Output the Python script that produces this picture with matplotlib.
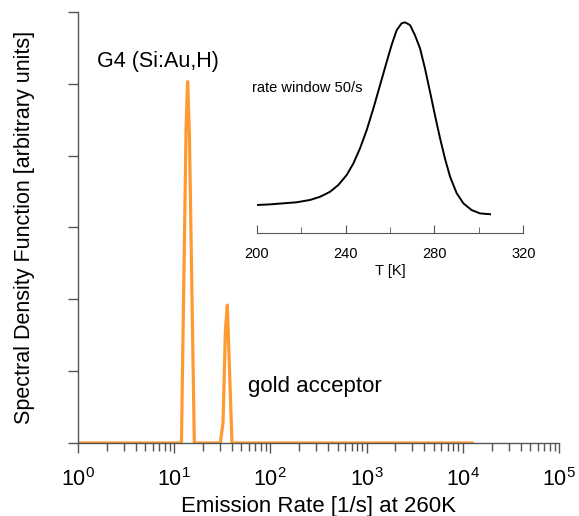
import numpy as np
import matplotlib
matplotlib.use("Agg")
import matplotlib.pyplot as plt
from matplotlib.ticker import LogLocator, FixedLocator, NullFormatter

plt.rcParams['font.family'] = ['Liberation Sans', 'DejaVu Sans']
plt.rcParams['mathtext.fontset'] = 'custom'
plt.rcParams['mathtext.rm'] = 'Liberation Sans'
plt.rcParams['mathtext.default'] = 'regular'

# spectral density vs emission rate (main plot)
rate = [1, 11.9, 13.3, 13.8, 14.4, 16.2, 30.2, 32.2, 34.1, 35.7, 39.9, 12500]
sdf = [0, 0, 4.4, 5.03, 4.3, 0, 0, 0.28, 1.57, 1.92, 0, 0]

# DLTS spectrum at rate window 50/s (inset)
temp = [200, 206, 212, 218, 224, 228.5, 233, 236.7, 240.5, 243.5, 246.5, 249.5,
        252.5, 255.5, 258.5, 260.7, 263, 265.2, 266.7, 269, 271.2, 273.5, 275.7,
        278, 280.2, 282.5, 284.7, 287, 290, 293, 296.7, 300.5, 305]
dlts = [0.132, 0.135, 0.140, 0.145, 0.156, 0.171, 0.195, 0.227, 0.275, 0.330, 0.402, 0.489,
        0.592, 0.703, 0.814, 0.894, 0.965, 0.997, 1.002, 0.989, 0.941, 0.878, 0.783,
        0.671, 0.560, 0.450, 0.354, 0.267, 0.188, 0.140, 0.108, 0.092, 0.088]

orange = '#ff9a33'
axcol = '#555555'

fig = plt.figure(figsize=(5.79, 5.16), dpi=100)
ax = fig.add_axes([0.1347, 0.1415, 0.8306, 0.8353])
ax.plot(rate, sdf, color=orange, lw=2.3)
ax.set_xscale('log')
ax.set_xlim(1, 1e5)
ax.set_ylim(0, 6)
ax.yaxis.set_major_locator(FixedLocator(range(7)))
ax.yaxis.set_major_formatter(NullFormatter())
ax.xaxis.set_major_locator(LogLocator(base=10, numticks=10))
ax.xaxis.set_minor_locator(LogLocator(base=10, subs=np.arange(2, 10), numticks=20))
ax.xaxis.set_minor_formatter(NullFormatter())
for s in ['top', 'right']:
    ax.spines[s].set_visible(False)
for s in ['left', 'bottom']:
    ax.spines[s].set_color(axcol)
    ax.spines[s].set_linewidth(1.0)
ax.tick_params(axis='both', which='major', direction='out', length=7, width=1,
               color=axcol, labelsize=15.5, pad=6)
ax.tick_params(axis='x', which='major', pad=11)
ax.tick_params(axis='x', which='minor', direction='out', length=6, width=1, color=axcol)
ax.set_xlabel('Emission Rate [1/s] at 260K', fontsize=16, labelpad=4)
ax.set_ylabel('Spectral Density Function [arbitrary units]', fontsize=15.5, labelpad=18)
ax.text(0.04, 0.884, 'G4 (Si:Au,H)', transform=ax.transAxes, fontsize=15.5, va='center')
ax.text(0.353, 0.13, 'gold acceptor', transform=ax.transAxes, fontsize=16, va='center')

ins = fig.add_axes([0.4434, 0.549, 0.4605, 0.411])
ins.patch.set_alpha(0)
ins.plot(temp, dlts, color='black', lw=1.4)
ins.set_xlim(200, 320)
ins.set_ylim(0, 1.01)
ins.set_xticks([200, 240, 280, 320])
ins.set_xticks([220, 260, 300], minor=True)
ins.set_yticks([])
for s in ['top', 'right', 'left']:
    ins.spines[s].set_visible(False)
ins.spines['bottom'].set_color(axcol)
ins.tick_params(axis='x', which='major', direction='in', length=6, color=axcol, labelsize=10.5, pad=10)
ins.tick_params(axis='x', which='minor', direction='in', length=4, color=axcol)
ins.set_xlabel('T [K]', fontsize=10.5, labelpad=2.5)
fig.text(0.4347, 0.830, 'rate window 50/s', fontsize=10.5, va='center')

fig.savefig('out.png', dpi=100)
